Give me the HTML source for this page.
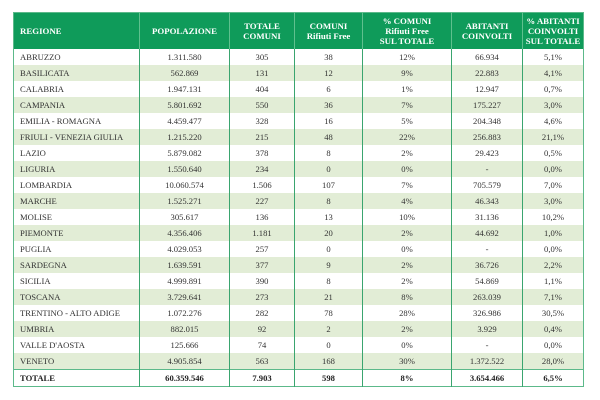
<!DOCTYPE html>
<html><head><style>
body{margin:0;background:#fff;width:600px;height:400px;overflow:hidden;font-family:"Liberation Serif",serif;}
table{position:absolute;left:13px;top:12px;border-collapse:collapse;table-layout:fixed;width:570px;border:1px solid #5cb98a;}
td,th{padding:0;font-size:8.6px;color:#333;text-align:center;border-left:1px solid #3aa56f;height:16px;line-height:9px;white-space:nowrap;}
th{background:#0f9b5a;color:#fff;font-weight:bold;height:36px;font-size:8.8px;line-height:10px;border-left:1px solid #5fc08e;}
td:first-child,th:first-child{text-align:left;padding-left:6px;border-left:none;}
tr:nth-child(odd) td{background:#e2edd6;}
tr.t td{font-weight:bold;color:#222;border-top:1px solid #5cb98a;background:#fff;}
</style></head><body>
<table>
<colgroup><col style="width:126px"><col style="width:90px"><col style="width:65px"><col style="width:68px"><col style="width:89px"><col style="width:71px"><col style="width:61px"></colgroup>
<tr><th>REGIONE</th><th>POPOLAZIONE</th><th>TOTALE<br>COMUNI</th><th>COMUNI<br>Rifiuti Free</th><th>% COMUNI<br>Rifiuti Free<br>SUL TOTALE</th><th>ABITANTI<br>COINVOLTI</th><th>% ABITANTI<br>COINVOLTI<br>SUL TOTALE</th></tr>
<tr><td>ABRUZZO</td><td>1.311.580</td><td>305</td><td>38</td><td>12%</td><td>66.934</td><td>5,1%</td></tr>
<tr><td>BASILICATA</td><td>562.869</td><td>131</td><td>12</td><td>9%</td><td>22.883</td><td>4,1%</td></tr>
<tr><td>CALABRIA</td><td>1.947.131</td><td>404</td><td>6</td><td>1%</td><td>12.947</td><td>0,7%</td></tr>
<tr><td>CAMPANIA</td><td>5.801.692</td><td>550</td><td>36</td><td>7%</td><td>175.227</td><td>3,0%</td></tr>
<tr><td>EMILIA - ROMAGNA</td><td>4.459.477</td><td>328</td><td>16</td><td>5%</td><td>204.348</td><td>4,6%</td></tr>
<tr><td>FRIULI - VENEZIA GIULIA</td><td>1.215.220</td><td>215</td><td>48</td><td>22%</td><td>256.883</td><td>21,1%</td></tr>
<tr><td>LAZIO</td><td>5.879.082</td><td>378</td><td>8</td><td>2%</td><td>29.423</td><td>0,5%</td></tr>
<tr><td>LIGURIA</td><td>1.550.640</td><td>234</td><td>0</td><td>0%</td><td>-</td><td>0,0%</td></tr>
<tr><td>LOMBARDIA</td><td>10.060.574</td><td>1.506</td><td>107</td><td>7%</td><td>705.579</td><td>7,0%</td></tr>
<tr><td>MARCHE</td><td>1.525.271</td><td>227</td><td>8</td><td>4%</td><td>46.343</td><td>3,0%</td></tr>
<tr><td>MOLISE</td><td>305.617</td><td>136</td><td>13</td><td>10%</td><td>31.136</td><td>10,2%</td></tr>
<tr><td>PIEMONTE</td><td>4.356.406</td><td>1.181</td><td>20</td><td>2%</td><td>44.692</td><td>1,0%</td></tr>
<tr><td>PUGLIA</td><td>4.029.053</td><td>257</td><td>0</td><td>0%</td><td>-</td><td>0,0%</td></tr>
<tr><td>SARDEGNA</td><td>1.639.591</td><td>377</td><td>9</td><td>2%</td><td>36.726</td><td>2,2%</td></tr>
<tr><td>SICILIA</td><td>4.999.891</td><td>390</td><td>8</td><td>2%</td><td>54.869</td><td>1,1%</td></tr>
<tr><td>TOSCANA</td><td>3.729.641</td><td>273</td><td>21</td><td>8%</td><td>263.039</td><td>7,1%</td></tr>
<tr><td>TRENTINO - ALTO ADIGE</td><td>1.072.276</td><td>282</td><td>78</td><td>28%</td><td>326.986</td><td>30,5%</td></tr>
<tr><td>UMBRIA</td><td>882.015</td><td>92</td><td>2</td><td>2%</td><td>3.929</td><td>0,4%</td></tr>
<tr><td>VALLE D'AOSTA</td><td>125.666</td><td>74</td><td>0</td><td>0%</td><td>-</td><td>0,0%</td></tr>
<tr><td>VENETO</td><td>4.905.854</td><td>563</td><td>168</td><td>30%</td><td>1.372.522</td><td>28,0%</td></tr>
<tr class="t"><td>TOTALE</td><td>60.359.546</td><td>7.903</td><td>598</td><td>8%</td><td>3.654.466</td><td>6,5%</td></tr>
</table>
</body></html>
